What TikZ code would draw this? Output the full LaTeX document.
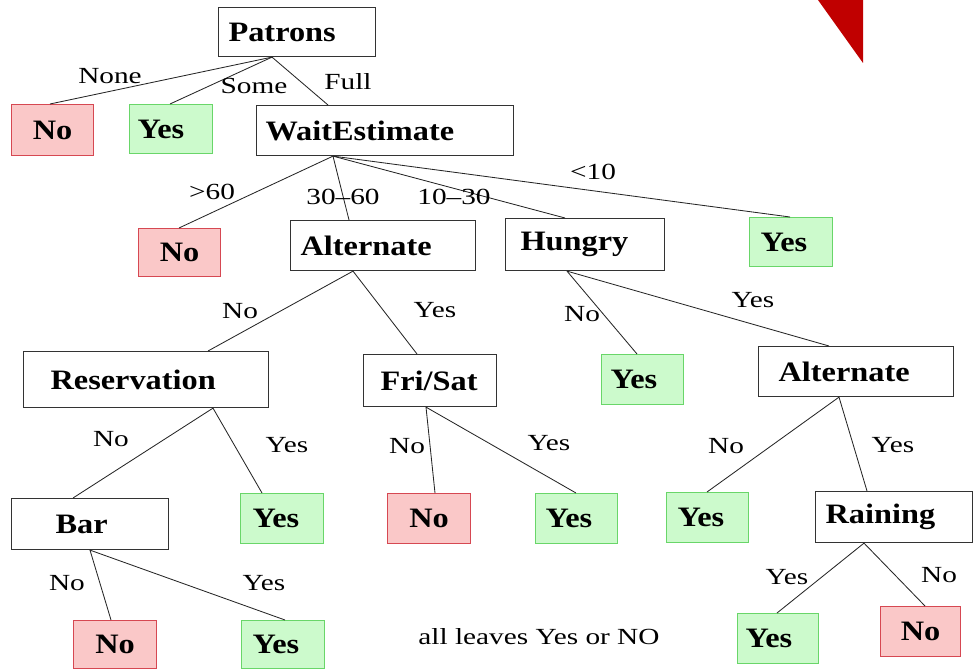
\documentclass[tikz,border=0pt]{standalone}
\usepackage{fontspec}
\setmainfont{Liberation Serif}
\newfontfamily\decfont{Liberation Serif}[FakeStretch=1.15]
\newfontfamily\edgefont{Liberation Serif}[FakeStretch=1.27]
\usetikzlibrary{calc}
\definecolor{nofill}{RGB}{250,200,200}
\definecolor{noline}{RGB}{214,72,82}
\definecolor{yesfill}{RGB}{204,250,204}
\definecolor{yesline}{RGB}{105,214,105}
\definecolor{cornerred}{RGB}{192,0,0}
\tikzset{
  % box of width #1, height #2 (px) with left text padding #3 (px)
  bx/.code n args={3}{%
    \pgfmathsetmacro\bxtw{(#1-2*#3)*0.025}%
    \pgfmathsetmacro\bxpad{#3*0.025}%
    \pgfmathsetmacro\bxht{#2*0.025}%
    \edef\bxkeys{text width=\bxtw cm, inner xsep=\bxpad cm, minimum height=\bxht cm}%
    \expandafter\pgfkeysalso\expandafter{\bxkeys}%
  },
  box/.style={draw=black!80, line width=0.8pt, anchor=north west, align=left,
    inner ysep=0pt, font=\decfont\bfseries\fontsize{20pt}{24pt}\selectfont},
  dec/.style={box, fill=white},
  yes/.style={box, fill=yesfill, draw=yesline},
  no/.style={box, fill=nofill, draw=noline, align=center},
  lab/.style={inner sep=0pt, font=\edgefont\fontsize{16.4pt}{19pt}\selectfont},
  edge/.style={draw=black!85, line width=0.6pt},
}
\begin{document}
\begin{tikzpicture}[x=0.025cm, y=-0.025cm]
\useasboundingbox (0,0) rectangle (973,669);

% corner mark
\fill[cornerred] (818,0) -- (863,0) -- (863,63) -- cycle;

% decision nodes
\node[dec, bx={157}{49}{10}] (patrons) at (218,7)   {Patrons};
\node[dec, bx={257}{50}{9}]  (wait)    at (256,105) {WaitEstimate};
\node[dec, bx={185}{50}{10}] (alt1)    at (290,220) {Alternate};
\node[dec, bx={159}{52}{15}] (hungry)  at (505,218) {Hungry};
\node[dec, bx={245}{56}{27}] (reserv)  at (23,351)  {Reservation};
\node[dec, bx={133}{52}{17}] (frisat)  at (363,354) {Fri/Sat};
\node[dec, bx={195}{50}{20}] (alt2)    at (758,346) {Alternate};
\node[dec, bx={157}{51}{44}] (bar)     at (11,498)  {Bar};
\node[dec, bx={157}{51}{10}] (raining) at (815,491) {Raining};

% leaves
\node[no,  bx={82}{51}{5}]  (no1)  at (11,104)  {No};
\node[yes, bx={83}{49}{8}]  (yes1) at (129,104) {Yes};
\node[no,  bx={82}{48}{5}]  (no2)  at (138,228) {No};
\node[yes, bx={83}{49}{11}] (yes2) at (749,217) {Yes};
\node[yes, bx={82}{50}{9}]  (yes5) at (601,354) {Yes};
\node[yes, bx={83}{50}{12}] (yes3) at (240,493) {Yes};
\node[no,  bx={83}{50}{5}]  (no3)  at (387,493) {No};
\node[yes, bx={82}{50}{10}] (yes4) at (535,493) {Yes};
\node[yes, bx={82}{50}{11}] (yes6) at (666,492) {Yes};
\node[no,  bx={83}{48}{5}]  (no4)  at (73,620)  {No};
\node[yes, bx={83}{48}{11}] (yes7) at (241,620) {Yes};
\node[yes, bx={81}{50}{8}]  (yes8) at (737,613) {Yes};
\node[no,  bx={80}{50}{5}]  (no5)  at (880,606) {No};

% branches
\draw[edge] ($(patrons.south west)+(54,0)$) -- ($(no1.north west)+(39,0)$);
\draw[edge] ($(patrons.south west)+(54,0)$) -- ($(yes1.north west)+(41,0)$);
\draw[edge] ($(patrons.south west)+(54,0)$) -- ($(wait.north west)+(72,0)$);

\draw[edge] ($(wait.south west)+(77,0)$) -- ($(no2.north west)+(41,0)$);
\draw[edge] ($(wait.south west)+(77,0)$) -- ($(alt1.north west)+(59,0)$);
\draw[edge] ($(wait.south west)+(77,0)$) -- ($(hungry.north west)+(60,0)$);
\draw[edge] ($(wait.south west)+(77,0)$) -- ($(yes2.north west)+(41,0)$);

\draw[edge] ($(alt1.south west)+(63,0)$) -- ($(reserv.north west)+(185,0)$);
\draw[edge] ($(alt1.south west)+(63,0)$) -- ($(frisat.north west)+(54,0)$);

\draw[edge] ($(hungry.south west)+(62,0)$) -- ($(yes5.north west)+(36,0)$);
\draw[edge] ($(hungry.south west)+(62,0)$) -- ($(alt2.north west)+(71,0)$);

\draw[edge] ($(reserv.south west)+(190,0)$) -- ($(bar.north west)+(62,0)$);
\draw[edge] ($(reserv.south west)+(190,0)$) -- ($(yes3.north west)+(22,0)$);

\draw[edge] ($(frisat.south west)+(63,0)$) -- ($(no3.north west)+(48,0)$);
\draw[edge] ($(frisat.south west)+(63,0)$) -- ($(yes4.north west)+(41,0)$);

\draw[edge] ($(alt2.south west)+(81,0)$) -- ($(yes6.north west)+(41,0)$);
\draw[edge] ($(alt2.south west)+(81,0)$) -- ($(raining.north west)+(52,0)$);

\draw[edge] ($(bar.south west)+(79,0)$) -- ($(no4.north west)+(38,0)$);
\draw[edge] ($(bar.south west)+(79,0)$) -- ($(yes7.north west)+(44,0)$);

\draw[edge] ($(raining.south west)+(49,0)$) -- ($(yes8.north west)+(40,0)$);
\draw[edge] ($(raining.south west)+(49,0)$) -- ($(no5.north west)+(45,0)$);

% branch labels
\node[lab] (lNone)  at (110,76)  {None};
\node[lab] (lSome)  at (254,86)  {Some};
\node[lab] (lFull)  at (348,82)  {Full};
\node[lab] (lgt60)  at (212,192) {>60};
\node[lab] (l3060)  at (343,197) {30–60};
\node[lab] (l1030)  at (454,197) {10–30};
\node[lab] (llt10)  at (593,172) {<10};
\node[lab] (la1no)  at (240,311) {No};
\node[lab] (la1yes) at (435,310) {Yes};
\node[lab] (lhno)   at (582,314) {No};
\node[lab] (lhyes)  at (753,300) {Yes};
\node[lab] (lrno)   at (111,439) {No};
\node[lab] (lryes)  at (287,445) {Yes};
\node[lab] (lfno)   at (407,446) {No};
\node[lab] (lfyes)  at (549,443) {Yes};
\node[lab] (la2no)  at (726,446) {No};
\node[lab] (la2yes) at (893,445) {Yes};
\node[lab] (lbno)   at (67,583)  {No};
\node[lab] (lbyes)  at (264,583) {Yes};
\node[lab] (lryes2) at (787,577) {Yes};
\node[lab] (lrno2)  at (939,575) {No};

% note
\node[lab] (note) at (539,637) {all leaves Yes or NO};
\end{tikzpicture}
\end{document}
